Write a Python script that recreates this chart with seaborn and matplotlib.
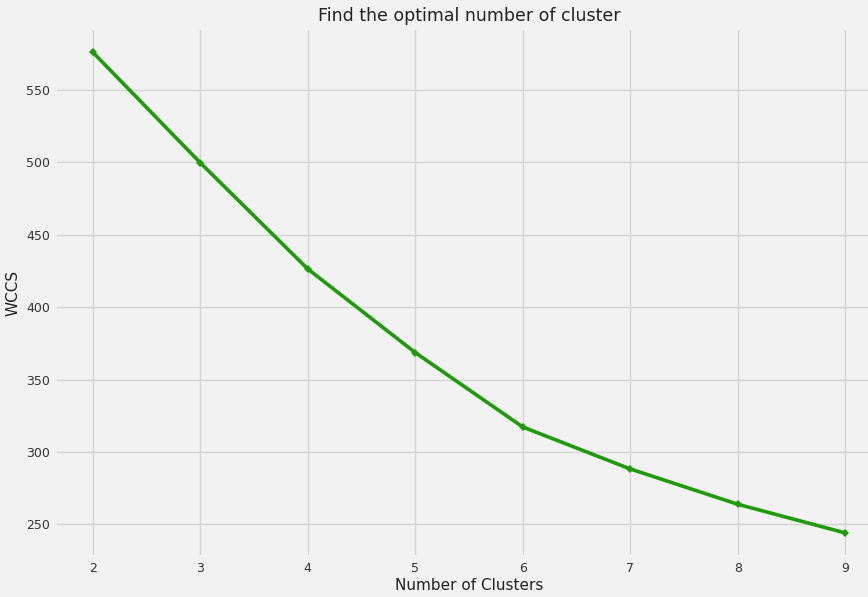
import numpy as np
import pandas as pd
import matplotlib
matplotlib.use("Agg")
import matplotlib.pyplot as plt
import seaborn as sns

# values
n_clusters = [2, 3, 4, 5, 6, 7, 8, 9]
wccs = [576.2, 499.8, 426.4, 368.6, 317.2, 288.2, 263.8, 244.0]

df = pd.DataFrame({"Number of Clusters": n_clusters, "WCCS": wccs})

plt.style.use("fivethirtyeight")
plt.rcParams["font.family"] = ["DejaVu Sans"]
bg = "#f2f2f2"
plt.rcParams["figure.facecolor"] = bg
plt.rcParams["axes.facecolor"] = bg
plt.rcParams["axes.edgecolor"] = bg
plt.rcParams["savefig.facecolor"] = bg
plt.rcParams["grid.color"] = "#d4d4d4"

fig = plt.figure(figsize=(8.68, 5.97), dpi=100)
# original figure was a bit wider, right side is cropped
ax = fig.add_axes([55 / 868, 40 / 597, 828 / 868, 529 / 597])

sns.lineplot(data=df, x="Number of Clusters", y="WCCS", ax=ax,
             color="#1f9a0c", linewidth=2.6, marker="D", markersize=4.5,
             markeredgewidth=0)

ax.set_title("Find the optimal number of cluster", fontsize=12.5, pad=5, color="#222222")
ax.set_xlabel("Number of Clusters", fontsize=11, labelpad=2, color="#222222")
ax.set_ylabel("WCCS", fontsize=11, labelpad=4, color="#222222")
ax.tick_params(labelsize=9, colors="#333333")
ax.set_xticks(n_clusters)
ax.set_yticks([250, 300, 350, 400, 450, 500, 550])

plt.savefig("out.png", dpi=100)
